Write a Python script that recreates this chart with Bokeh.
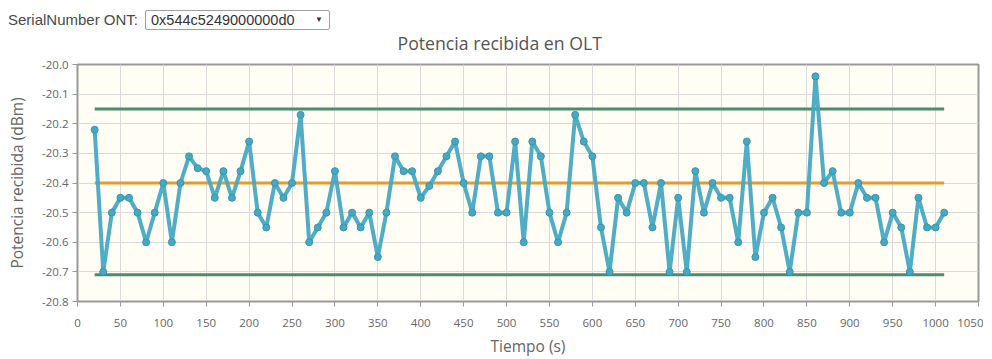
from bokeh.plotting import figure
from bokeh.models import Div, FixedTicker, PrintfTickFormatter
from bokeh.layouts import column
from bokeh.embed import file_html
from bokeh.resources import INLINE

serial = "0x544c5249000000d0"
titulo = "Potencia recibida en OLT"

tiempo = [20, 30, 40, 50, 60, 70, 80, 90, 100, 110,
          120, 130, 140, 150, 160, 170, 180, 190, 200, 210,
          220, 230, 240, 250, 260, 270, 280, 290, 300, 310,
          320, 330, 340, 350, 360, 370, 380, 390, 400, 410,
          420, 430, 440, 450, 460, 470, 480, 490, 500, 510,
          520, 530, 540, 550, 560, 570, 580, 590, 600, 610,
          620, 630, 640, 650, 660, 670, 680, 690, 700, 710,
          720, 730, 740, 750, 760, 770, 780, 790, 800, 810,
          820, 830, 840, 850, 860, 870, 880, 890, 900, 910,
          920, 930, 940, 950, 960, 970, 980, 990, 1000, 1010]

potencia = [-20.22, -20.70, -20.50, -20.45, -20.45, -20.50, -20.60, -20.50, -20.40, -20.60,
            -20.40, -20.31, -20.35, -20.36, -20.45, -20.36, -20.45, -20.36, -20.26, -20.50,
            -20.55, -20.40, -20.45, -20.40, -20.17, -20.60, -20.55, -20.50, -20.36, -20.55,
            -20.50, -20.55, -20.50, -20.65, -20.50, -20.31, -20.36, -20.36, -20.45, -20.41,
            -20.36, -20.31, -20.26, -20.40, -20.50, -20.31, -20.31, -20.50, -20.50, -20.26,
            -20.60, -20.26, -20.31, -20.50, -20.60, -20.50, -20.17, -20.26, -20.31, -20.55,
            -20.70, -20.45, -20.50, -20.40, -20.40, -20.55, -20.40, -20.70, -20.45, -20.70,
            -20.36, -20.50, -20.40, -20.45, -20.45, -20.60, -20.26, -20.65, -20.50, -20.45,
            -20.55, -20.70, -20.50, -20.50, -20.04, -20.40, -20.36, -20.50, -20.50, -20.40,
            -20.45, -20.45, -20.60, -20.50, -20.55, -20.70, -20.45, -20.55, -20.55, -20.50]

limite_superior = -20.15
media = -20.40
limite_inferior = -20.71

x_ticks = [0, 50, 100, 150, 200, 250, 300, 350, 400, 450, 500, 550,
           600, 650, 700, 750, 800, 850, 900, 950, 1000, 1050]
y_ticks = [-20.8, -20.7, -20.6, -20.5, -20.4, -20.3, -20.2, -20.1, -20.0]

FONT = "Open Sans"

header = Div(
    text=(
        "<div style=\"font-family:'Liberation Sans',Arial,sans-serif;font-size:15px;color:#4a4a4a;"
        "display:flex;align-items:center;white-space:nowrap;padding-top:1px;padding-left:5px;\">"
        "<span style=\"display:inline-block;width:137px;\">SerialNumber ONT:</span>"
        "<span style=\"display:inline-block;box-sizing:border-box;width:185px;height:20px;"
        "line-height:18px;border:1px solid #a0a0a0;border-radius:2px;font-size:14.5px;"
        "padding:0 6px 0 5px;background:#fff;color:#333;\">"
        f"{serial}<span style='font-size:8px;float:right;'>&#9660;</span></span></div>"
    ),
    width=400, height=11, margin=(0, 0, 0, 0),
    styles={"overflow": "visible", "z-index": "10", "position": "relative"},
)

p = figure(width=980, height=340, output_backend="svg", toolbar_location=None,
           x_range=(0, 1050), y_range=(-20.8, -20.0), title=titulo,
           min_border_left=74, min_border_right=5, min_border_bottom=52, min_border_top=8,
           margin=(0, 0, 0, 0))

p.title.align = "left"
p.title.offset = 320
p.title.standoff = 19
p.title.text_font = FONT
p.title.text_font_size = "17.7px"
p.title.text_font_style = "normal"
p.title.text_color = "#555555"

p.background_fill_color = "#fffdf4"
p.border_fill_color = "white"
p.outline_line_color = "#999999"
p.outline_line_width = 2

p.xaxis.ticker = FixedTicker(ticks=x_ticks)
p.yaxis.ticker = FixedTicker(ticks=y_ticks)
p.yaxis.formatter = PrintfTickFormatter(format="%.1f")
p.xaxis.axis_label = "Tiempo (s)"
p.yaxis.axis_label = "Potencia recibida (dBm)"
for ax in (p.xaxis, p.yaxis):
    ax.axis_line_color = "#999999"
    ax.axis_line_width = 1
    ax.major_tick_line_color = "#999999"
    ax.major_tick_out = 5
    ax.major_tick_in = 0
    ax.minor_tick_line_color = None
    ax.major_label_text_font = FONT
    ax.major_label_text_font_size = "11.5px"
    ax.major_label_text_color = "#666666"
    ax.axis_label_text_font = FONT
    ax.axis_label_text_font_size = "15.5px"
    ax.axis_label_text_font_style = "normal"
    ax.axis_label_text_color = "#666666"
p.xaxis.major_label_standoff = 12
p.xaxis.axis_label_standoff = 5
p.yaxis.major_label_standoff = 4
p.yaxis.axis_label_standoff = 11

p.xgrid.grid_line_color = "#dadada"
p.ygrid.grid_line_color = "#dadada"

xs = [tiempo[0], tiempo[-1]]
p.line(xs, [limite_superior, limite_superior], line_color="#4a8c6c", line_width=3)
p.line(xs, [limite_inferior, limite_inferior], line_color="#4a8c6c", line_width=3)
p.line(xs, [media, media], line_color="#e79a2e", line_width=3)

p.line(tiempo, potencia, line_color="#46a9c3", line_width=4, line_alpha=0.95)
p.scatter(tiempo, potencia, size=7, fill_color="#46a9c3", line_color="#3596b0", line_width=1)

layout = column(header, p, spacing=0, margin=(8, 0, 0, 3))
open("out.html", "w").write(file_html(layout, INLINE))
